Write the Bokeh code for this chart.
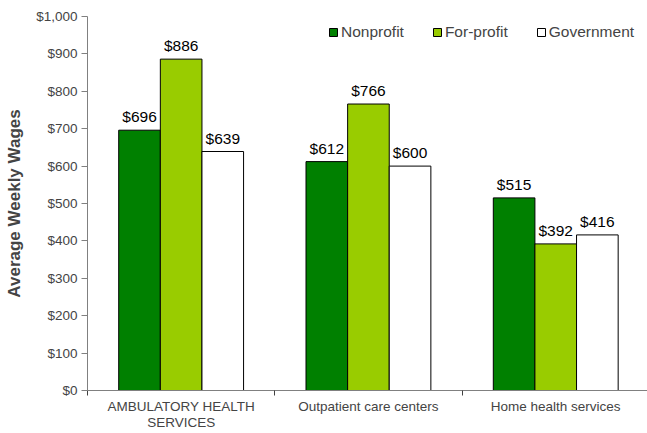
from bokeh.plotting import figure
from bokeh.models import ColumnDataSource, FixedTicker, NumeralTickFormatter, Legend, LegendItem, Range1d, LabelSet
from bokeh.core.properties import value
from bokeh.embed import file_html
from bokeh.resources import INLINE

categories = ["AMBULATORY HEALTH\nSERVICES", "Outpatient care centers", "Home health services"]
series = ["Nonprofit", "For-profit", "Government"]
nonprofit = [696, 612, 515]
forprofit = [886, 766, 392]
government = [639, 600, 416]
colors = ["#008000", "#99CC00", "#FFFFFF"]
yticks = [0, 100, 200, 300, 400, 500, 600, 700, 800, 900, 1000]

FONT = "Liberation Sans"
bw = 2 / 9

p = figure(width=647, height=433, output_backend="svg", toolbar_location=None,
           x_range=Range1d(0, 2.99), y_range=Range1d(0, 1000),
           min_border_left=87, min_border_right=0, min_border_top=16, min_border_bottom=43)
p.outline_line_color = None
p.grid.visible = False
p.background_fill_color = "white"

centers = [i + 0.5 for i in range(len(categories))]
items = []
for k, (name, vals, col) in enumerate(zip(series, [nonprofit, forprofit, government], colors)):
    xs = [c + (k - 1) * bw for c in centers]
    src = ColumnDataSource(dict(x=xs, top=vals, lbl=["$%d" % v for v in vals]))
    r = p.vbar(x="x", top="top", width=bw, bottom=0, source=src, fill_color=col,
               line_color="black", line_width=1)
    items.append(LegendItem(label=name, renderers=[r]))
    p.add_layout(LabelSet(x="x", y="top", text="lbl", source=src, text_align="center",
                          text_baseline="bottom", y_offset=5, text_font=value(FONT),
                          text_font_size="15.5px", text_color="black"))

legend = Legend(items=items, orientation="horizontal", location=(241, 349),
                glyph_width=10, glyph_height=10, label_standoff=3, spacing=28,
                padding=3, margin=0, border_line_color=None, background_fill_alpha=0,
                label_text_font=FONT, label_text_font_size="15.5px", label_height=10)
p.add_layout(legend, "center")

ya = p.yaxis[0]
ya.ticker = FixedTicker(ticks=yticks)
ya.formatter = NumeralTickFormatter(format="$0,0")
ya.axis_line_color = "#808080"
ya.major_tick_line_color = "#808080"
ya.major_tick_out = 6
ya.major_tick_in = 0
ya.minor_tick_line_color = None
ya.major_label_text_font = FONT
ya.major_label_text_font_size = "13.5px"
ya.major_label_standoff = 4
ya.axis_label = "Average Weekly Wages"
ya.axis_label_text_font = FONT
ya.axis_label_text_font_style = "bold"
ya.axis_label_text_font_size = "17px"
ya.axis_label_standoff = 9

xa = p.xaxis[0]
xa.ticker = FixedTicker(ticks=centers, minor_ticks=[0, 1, 2, 3])
xa.major_label_overrides = {c: lab for c, lab in zip(centers, categories)}
xa.axis_line_color = "#808080"
xa.major_tick_line_color = None
xa.major_tick_out = 0
xa.major_tick_in = 0
xa.minor_tick_line_color = "#404040"
xa.minor_tick_out = 5
xa.minor_tick_in = 0
xa.major_label_text_font = FONT
xa.major_label_text_font_size = "13.5px"
xa.major_label_text_line_height = 1.1
xa.major_label_standoff = 3

open("out.html", "w").write(file_html(p, INLINE))
